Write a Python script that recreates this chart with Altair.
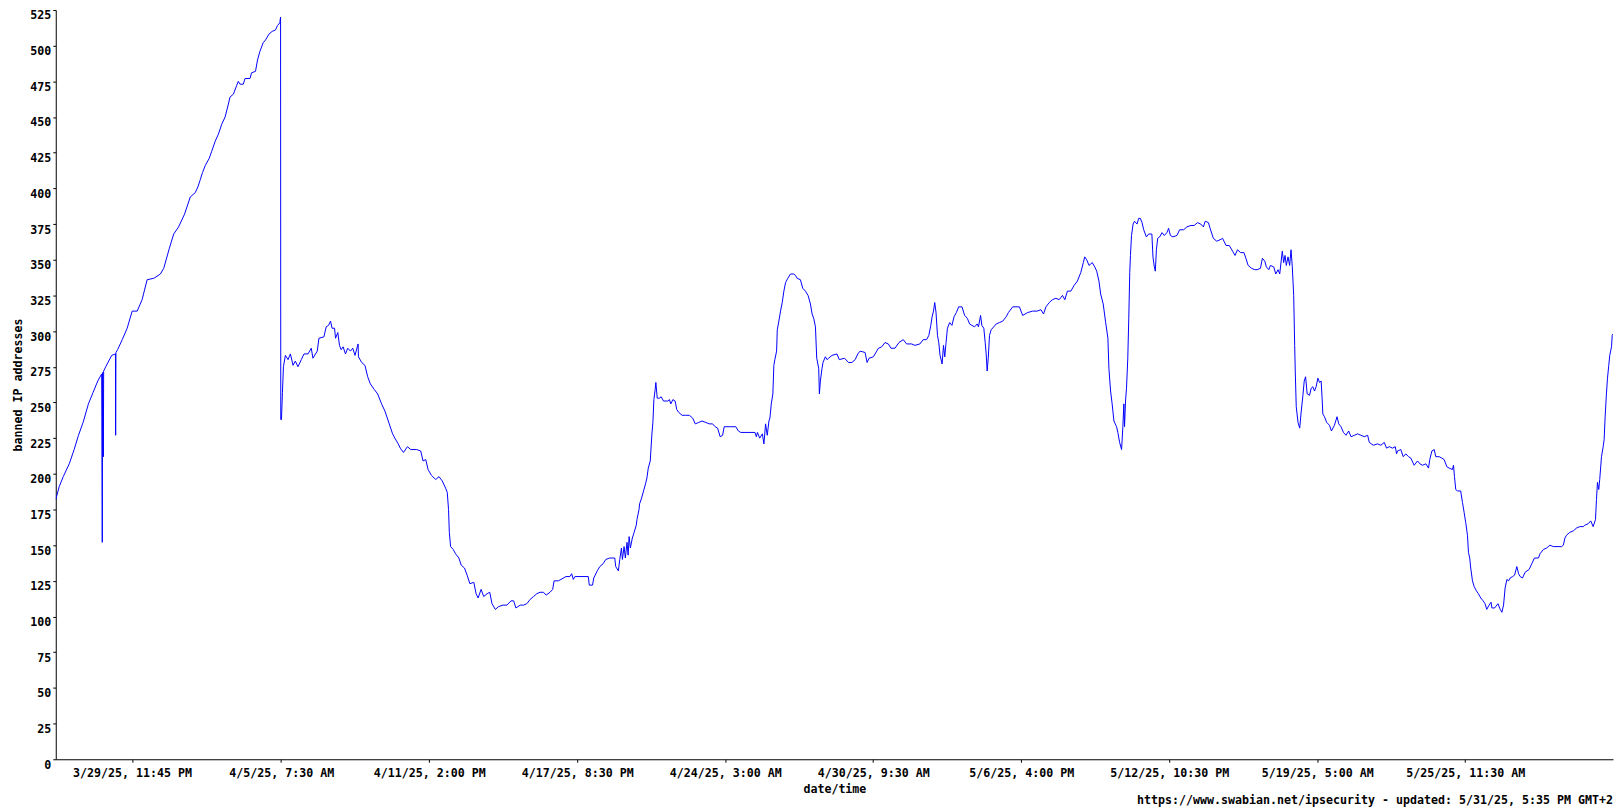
import altair as alt
import pandas as pd
from datetime import datetime

FONT = "DejaVu Sans Mono"
FS = 11.7

start = pd.Timestamp("2025-03-26 18:20")

# hours since start
hours = [
    0, 3.5, 7.6, 13.7, 18.7, 23.1, 27.8, 33.2, 37.9, 42.7,
    46.7, 47.3, 47.6, 48.4, 48.7, 50.8, 56.9, 60.7, 60.9, 61.2,
    62.9, 67.6, 72.6, 77.7, 82.8, 87.8, 92.9, 99.7, 106.4, 109.8,
    115.5, 119.9, 124.9, 131, 136.8, 141.8, 144.5, 146.9, 149.2, 152,
    156, 158.6, 162.1, 165.4, 168.8, 172.2, 174.8, 177.2, 180.6, 183.9,
    185.6, 187.4, 190.7, 192.4, 197.5, 199.1, 203.1, 205.2, 207.6, 210.9,
    213.3, 216.7, 220, 223.4, 225.4, 227.8, 228.4, 228.6, 228.8, 229.5,
    230.5, 231.5, 233.5, 236.2, 238.6, 241.3, 243.6, 246.3, 249.7, 252.4,
    256.5, 259.8, 261.5, 265.9, 267.6, 272.7, 275, 277.4, 279.4, 281,
    283.5, 284.5, 286.8, 288.5, 290.2, 292.2, 294.6, 296.9, 299.7, 302,
    304.3, 307.4, 307.8, 311.1, 314.4, 317.2, 319.9, 324, 327.3, 331.3,
    334.7, 339.1, 342.5, 344.8, 348.2, 350.3, 353.6, 357.6, 361, 367,
    371.1, 373.5, 376.2, 378.6, 381.9, 386.3, 389.7, 393, 396.4, 398.1,
    399.4, 400.2, 401.5, 404.2, 406.5, 409.9, 412.3, 415.6, 418.3, 421.1,
    425.1, 427.4, 429.5, 432.5, 435.2, 438.6, 441.3, 443.6, 447, 450.4,
    454.8, 458.8, 462.9, 465.6, 467.9, 472.3, 475.7, 479, 482.4, 485.8,
    489.2, 492.5, 495.9, 498.6, 502.6, 505.3, 506.7, 511.1, 516.2, 518.8,
    522.8, 524.6, 526.3, 527.9, 541.5, 542.5, 545.8, 547.1, 550.6, 553.2,
    556.6, 559.3, 563.3, 568.4, 569.4, 572.1, 573.5, 575.2, 576.2, 577.9,
    579.2, 580.9, 582, 583, 584.3, 586.3, 587.7, 590.3, 591, 593.1,
    593.7, 595.7, 597.7, 599.7, 601.1, 602.5, 604.5, 606.2, 607.2, 608.2,
    609.5, 610.2, 611.6, 613.9, 615.6, 618, 622.4, 624, 625.4, 627.5,
    629.8, 631.5, 633.5, 636.9, 640.2, 644.3, 647.7, 650.3, 653.8, 657.1,
    661.1, 664.5, 667.9, 670.5, 673, 675.6, 678.1, 679.7, 686.4, 691.5,
    694.2, 696.5, 700.9, 704.9, 711, 712.4, 713.5, 715.8, 718.5, 720.1,
    721.8, 723.5, 725.2, 726.2, 727.6, 729.2, 730.2, 731.2, 733, 733.7,
    735.3, 737, 738.7, 740.4, 742.1, 744.4, 747.1, 750.5, 752.2, 753.9,
    757.2, 759.6, 762.3, 765, 767.4, 769.1, 770.7, 772.5, 773.8, 775.8,
    776.5, 777.5, 779.2, 780.2, 782.6, 784.3, 785.9, 789.3, 794.4, 796.7,
    802.1, 806.1, 809.5, 812.9, 815.6, 817.9, 823, 825, 827, 831.4,
    834.8, 836.5, 839.9, 843.2, 846.6, 849.3, 853.4, 857.4, 861.8, 865.2,
    870.3, 873.6, 878.7, 882, 885.5, 887.8, 889.8, 891.1, 892.5, 893.8,
    895.1, 896.6, 897.9, 899.2, 901.3, 902.7, 904, 905.3, 906.7, 909,
    911.3, 913.4, 915.8, 918.1, 921.5, 924.2, 926.9, 929.3, 931.6, 934.3,
    937, 938.3, 940.4, 941.7, 943.7, 945.1, 946.1, 947.1, 948.2, 949.5,
    951.2, 953.8, 956.3, 959.6, 963, 966.4, 968.7, 973.1, 977.5, 979.9,
    983.2, 988.3, 993.3, 997.8, 1001.8, 1004.4, 1006.9, 1010.2, 1013.5, 1017,
    1020.3, 1023.7, 1026.1, 1028.7, 1032.2, 1035.5, 1038.8, 1042.3, 1044.9, 1046.3,
    1048.3, 1050.7, 1054, 1056.5, 1058.5, 1060.8, 1062.5, 1065.1, 1067.6, 1069.9,
    1070.9, 1072.6, 1074.2, 1076, 1078.7, 1080, 1081.8, 1083.8, 1085.1, 1086.1,
    1086.8, 1087.8, 1088.8, 1090.1, 1091.1, 1092.1, 1092.8, 1093.9, 1095.5, 1096.9,
    1099.5, 1101.2, 1102.9, 1104.6, 1106.3, 1109, 1111.3, 1114.6, 1115.7, 1117.1,
    1118.1, 1119.2, 1120.5, 1122.5, 1124.9, 1127.3, 1129.9, 1131.6, 1133.4, 1136,
    1140.1, 1142.8, 1146.9, 1150.2, 1154.3, 1157.6, 1161, 1164.3, 1167, 1168.8,
    1172.1, 1173.8, 1177.1, 1180.5, 1183.9, 1186.5, 1190, 1193.3, 1196.7, 1199.1,
    1201.7, 1204.8, 1208.2, 1210.2, 1212.5, 1215.9, 1219.3, 1221.6, 1225, 1227,
    1229.4, 1231, 1233.5, 1235.1, 1238.5, 1240.6, 1242.9, 1244.6, 1247.2, 1248.6,
    1250, 1251.3, 1253, 1254.7, 1256.1, 1257.4, 1258.8, 1259.8, 1260.4, 1261.4,
    1263.2, 1264.9, 1266.5, 1268.2, 1269.5, 1270.9, 1272.5, 1274.9, 1276.6, 1278.3,
    1280, 1281.6, 1283.4, 1285.1, 1286.7, 1287.7, 1288.4, 1290.1, 1292.4, 1295.2,
    1297.2, 1300.2, 1302.9, 1304.6, 1306.9, 1309.4, 1312, 1314.7, 1317.1, 1320.5,
    1323.8, 1327.2, 1330.6, 1334, 1335.7, 1339.8, 1344.1, 1347.4, 1350.9, 1353.2,
    1356, 1359.3, 1362.1, 1363.4, 1364.4, 1367.7, 1370.2, 1372.8, 1375.6, 1377.9,
    1381.3, 1384.7, 1387.1, 1389.8, 1393.2, 1395.9, 1397.2, 1399.3, 1401.7, 1403.3,
    1406.8, 1409.4, 1411.8, 1414.5, 1416.9, 1420.2, 1421.3, 1422.3, 1423.6, 1425.3,
    1428.6, 1430.4, 1432.1, 1433.7, 1435.5, 1436.5, 1437.8, 1438.8, 1440.6, 1442.3,
    1444.6, 1446.6, 1449, 1451.4, 1453.4, 1455.1, 1457.5, 1459.5, 1460.4, 1463.1,
    1466.5, 1468.8, 1470.5, 1472.2, 1473.8, 1475.6, 1477.3, 1478.9, 1481.4, 1483.4,
    1485.7, 1487.5, 1489.1, 1491.5, 1494.1, 1498.2, 1500.9, 1503.6, 1507.7, 1509.3,
    1512.7, 1516, 1519.4, 1522.8, 1531.2, 1533, 1534.6, 1536.3, 1539.6, 1543.1,
    1546.4, 1549.8, 1553.2, 1554.8, 1558.2, 1560.9, 1563.3, 1565.7, 1566.7, 1567.7,
    1569, 1570, 1571.8, 1573.5, 1574.5, 1575.5, 1576.8, 1577.9, 1579.2, 1580.2,
    1582, 1582.7, 1583.5,
]

banned = [
    182, 191, 198, 207, 217, 227, 236, 249, 257, 265,
    270, 152, 271, 212, 272, 275, 283, 284, 227, 285,
    287, 294, 302, 314, 314, 322, 336, 337, 340, 344,
    358, 368, 373, 382, 394, 397, 401, 406, 411, 416,
    421, 426, 433, 438, 445, 450, 457, 464, 466, 472,
    475, 473, 473, 477, 477, 481, 482, 490, 496, 502,
    504, 508, 510, 511, 514, 516, 519, 520, 238, 238,
    257, 275, 283, 280, 284, 276, 279, 275, 280, 284,
    284, 288, 281, 286, 295, 296, 303, 304, 307, 302,
    302, 295, 299, 290, 287, 289, 284, 288, 286, 288,
    283, 291, 282, 278, 276, 268, 263, 259, 256, 249,
    244, 235, 228, 225, 221, 218, 215, 219, 217, 217,
    216, 209, 210, 203, 199, 196, 198, 195, 190, 187,
    175, 159, 149, 147, 144, 141, 136, 134, 129, 123,
    124, 116, 113, 119, 114, 116, 117, 109, 105, 107,
    108, 108, 111, 111, 106, 108, 108, 109, 112, 114,
    116, 117, 117, 115, 117, 119, 125, 125, 127, 128,
    128, 130, 126, 128, 128, 122, 122, 127, 132, 135,
    137, 140, 141, 141, 135, 132, 140, 148, 140, 149,
    141, 152, 143, 156, 148, 155, 158, 164, 168, 175,
    179, 183, 188, 193, 197, 204, 209, 228, 236, 252,
    259, 264, 253, 253, 254, 251, 251, 252, 249, 252,
    251, 245, 243, 241, 241, 241, 239, 235, 236, 237,
    236, 235, 235, 233, 232, 226, 227, 233, 233, 233,
    230, 229, 229, 229, 229, 226, 229, 225, 228, 221,
    235, 227, 237, 239, 249, 256, 276, 280, 286, 301,
    307, 314, 320, 328, 334, 337, 340, 340, 339, 337,
    336, 330, 328, 325, 319, 312, 309, 303, 281, 274,
    256, 265, 274, 278, 282, 280, 281, 283, 284, 280,
    281, 278, 278, 280, 284, 286, 285, 278, 281, 282,
    286, 288, 289, 292, 291, 288, 288, 292, 294, 291,
    291, 290, 291, 294, 294, 297, 304, 310, 314, 320,
    313, 297, 292, 283, 277, 290, 282, 292, 302, 306,
    304, 310, 313, 317, 317, 311, 309, 305, 304, 303,
    305, 303, 311, 304, 302, 292, 284, 272, 281, 297,
    301, 303, 305, 306, 307, 310, 313, 317, 317, 317,
    311, 313, 314, 314, 315, 312, 317, 320, 322, 323,
    322, 325, 322, 328, 328, 332, 335, 341, 348, 352,
    350, 346, 348, 345, 342, 335, 326, 319, 306, 295,
    274, 258, 249, 237, 233, 229, 222, 217, 233, 249,
    233, 251, 260, 281, 309, 341, 353, 367, 375, 377,
    375, 379, 379, 376, 371, 366, 368, 368, 352, 345,
    342, 357, 365, 366, 369, 367, 369, 372, 367, 366,
    367, 371, 371, 373, 374, 374, 376, 375, 373, 377,
    376, 372, 365, 363, 364, 365, 360, 360, 356, 353,
    357, 355, 355, 351, 346, 344, 343, 343, 344, 351,
    349, 345, 343, 346, 345, 340, 343, 340, 356, 348,
    353, 346, 352, 346, 357, 345, 325, 290, 272, 247,
    236, 232, 244, 255, 265, 268, 256, 255, 260, 261,
    258, 261, 267, 264, 265, 253, 242, 240, 236, 234,
    230, 234, 240, 235, 233, 229, 227, 230, 226, 227,
    228, 227, 226, 227, 222, 220, 221, 220, 222, 218,
    219, 218, 219, 214, 216, 217, 212, 214, 212, 211,
    206, 209, 207, 206, 207, 204, 210, 216, 217, 212,
    212, 211, 210, 205, 204, 203, 206, 198, 189, 188,
    188, 180, 173, 166, 157, 145, 141, 134, 125, 121,
    118, 116, 113, 111, 109, 105, 108, 110, 106, 106,
    109, 105, 103, 108, 120, 126, 125, 127, 128, 129,
    135, 130, 128, 127, 131, 133, 137, 141, 141, 144,
    147, 148, 150, 149, 149, 150, 155, 157, 159, 160,
    162, 163, 163, 164, 165, 167, 163, 168, 182, 194,
    189, 196, 212, 219, 224, 240, 256, 267, 276, 283,
    289, 297, 298,
]

tick_labels = [
    "3/29/25, 11:45 PM", "4/5/25, 7:30 AM", "4/11/25, 2:00 PM",
    "4/17/25, 8:30 PM", "4/24/25, 3:00 AM", "4/30/25, 9:30 AM",
    "5/6/25, 4:00 PM", "5/12/25, 10:30 PM", "5/19/25, 5:00 AM",
    "5/25/25, 11:30 AM",
]
y_ticks = list(range(0, 526, 25))
footer = "https://www.swabian.net/ipsecurity - updated: 5/31/25, 5:35 PM GMT+2"

assert len(hours) == len(banned)

t_ms = [int((start + pd.Timedelta(hours=h)).value // 10**6) for h in hours]
tick_ms = [int(pd.Timestamp(datetime.strptime(s, "%m/%d/%y, %I:%M %p")).value // 10**6)
           for s in tick_labels]

df = pd.DataFrame({"t": t_ms, "n": banned})

W, H = 1565, 753

line = alt.Chart(df).mark_line(color="#0000ff", strokeWidth=1, clip=True).encode(
    x=alt.X(
        "t:T",
        scale=alt.Scale(type="utc", domain=[t_ms[0], t_ms[-1]], nice=False),
        axis=alt.Axis(
            title="date/time", values=tick_ms,
            labelExpr="utcFormat(datum.value, '%-m/%-d/%y, %-I:%M %p')",
            grid=False, tickSize=3, labelPadding=5,
            labelOverlap=False, labelFlush=False, titlePadding=5,
        ),
    ),
    y=alt.Y(
        "n:Q",
        scale=alt.Scale(domain=[0, 525], nice=False, zero=True),
        axis=alt.Axis(
            title="banned IP addresses", values=y_ticks, grid=False, tickSize=3,
            labelPadding=2, labelBaseline="top", labelOverlap=False, labelFlush=False,
            titlePadding=6,
        ),
    ),
)

foot = alt.Chart(pd.DataFrame({"txt": [footer]})).mark_text(
    align="right", baseline="alphabetic", font=FONT, fontSize=FS,
    fontWeight="bold", color="black",
).encode(x=alt.value(W), y=alt.value(H + 45), text="txt:N")

chart = alt.layer(line, foot).properties(
    width=W, height=H,
    autosize=alt.AutoSizeParams(type="none"),
    padding={"left": 48, "top": 0, "right": 1, "bottom": 48},
).configure_view(stroke=None).configure_axis(
    domainColor="black", tickColor="black", labelColor="black", titleColor="black",
    labelFont=FONT, titleFont=FONT, labelFontSize=FS, titleFontSize=FS,
    labelFontWeight="bold", titleFontWeight="bold", domainWidth=1, tickWidth=1,
)

chart.save("out.html", embed_options={"renderer": "svg", "actions": False})
